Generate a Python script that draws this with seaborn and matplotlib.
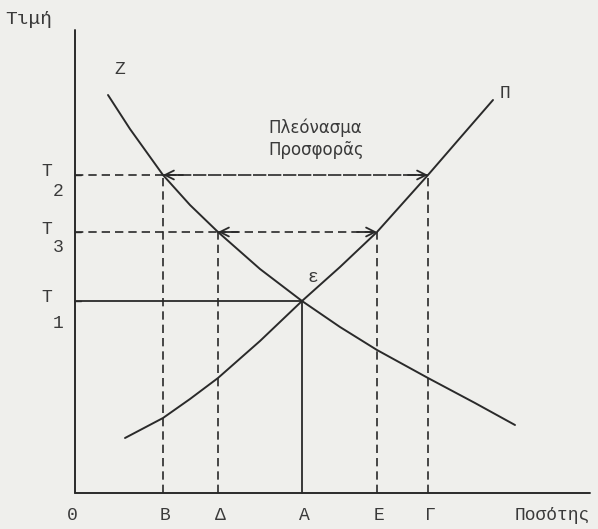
import matplotlib
matplotlib.use("Agg")
import matplotlib.pyplot as plt
import seaborn as sns
import pandas as pd

# quantities on the x axis
q_labels = ["B", "Δ", "A", "E", "Γ"]
q_B, q_D, q_A, q_E, q_G = 8.8, 14.3, 22.7, 30.2, 35.3
# prices on the y axis
p_T2, p_T3, p_T1 = 31.8, 26.1, 19.2

# demand curve Z
demand_q = [3.3, 5.5, 8.8, 11.5, 14.3, 18.5, 22.7, 26.5, 30.2, 35.3, 40.0, 44.0]
demand_p = [39.8, 36.4, 31.8, 28.8, 26.1, 22.4, 19.2, 16.6, 14.3, 11.5, 9.0, 6.8]
# supply curve Π
supply_q = [5.0, 8.8, 11.5, 14.3, 18.5, 22.7, 26.5, 30.2, 35.3, 38.5, 41.8]
supply_p = [5.5, 7.5, 9.4, 11.5, 15.2, 19.2, 22.6, 26.1, 31.8, 35.5, 39.3]

paper = "#efefec"
ink = "#2a2a2a"
txt = "#3a3a3a"

sns.set_style("white")
plt.rcParams["font.family"] = ["Liberation Mono", "DejaVu Sans"]

fig = plt.figure(figsize=(5.98, 5.29), dpi=100, facecolor=paper)
ax = fig.add_axes([0, 0, 1, 1], facecolor=paper)
ax.set_xlim(-7.5, 52.3)
ax.set_ylim(-3.6, 49.3)
for s in ax.spines.values():
    s.set_visible(False)
ax.set_xticks([])
ax.set_yticks([])

# axes lines
ax.plot([0, 0], [0, 46.3], color=ink, lw=1.4)
ax.plot([0, 51.5], [0, 0], color=ink, lw=1.4)

curves = pd.concat([
    pd.DataFrame({"q": demand_q, "p": demand_p, "c": "Z"}),
    pd.DataFrame({"q": supply_q, "p": supply_p, "c": "Π"}),
])
sns.lineplot(data=curves, x="q", y="p", hue="c", palette={"Z": ink, "Π": ink},
             sort=False, estimator=None, lw=1.4, legend=False, ax=ax)

dash = (0, (5, 3))
# T2 level
ax.plot([0, q_B], [p_T2, p_T2], color=ink, lw=1.2, ls=dash)
ax.plot([q_B, q_G], [p_T2, p_T2], color=ink, lw=1.2, ls=(0, (8, 1)))
ax.plot([q_B, q_B], [0, p_T2], color=ink, lw=1.2, ls=dash)
ax.plot([q_G, q_G], [0, p_T2], color=ink, lw=1.2, ls=dash)
# T3 level
ax.plot([0, q_D], [p_T3, p_T3], color=ink, lw=1.2, ls=dash)
ax.plot([q_D, q_E], [p_T3, p_T3], color=ink, lw=1.2, ls=dash)
ax.plot([q_D, q_D], [0, p_T3], color=ink, lw=1.2, ls=dash)
ax.plot([q_E, q_E], [0, p_T3], color=ink, lw=1.2, ls=dash)
# T1 equilibrium
ax.plot([0, q_A], [p_T1, p_T1], color=ink, lw=1.3)
ax.plot([q_A, q_A], [0, p_T1], color=ink, lw=1.3)

# arrow heads
for x0, x1, y in [(q_B + 2, q_B, p_T2), (q_G - 2, q_G, p_T2),
                  (q_D + 2, q_D, p_T3), (q_E - 2, q_E, p_T3)]:
    ax.annotate("", xy=(x1, y), xytext=(x0, y),
                arrowprops=dict(arrowstyle="->", color=ink, lw=1.3,
                                mutation_scale=16, shrinkA=0, shrinkB=0))

# small ticks on the price axis
for y in [p_T2, p_T3, p_T1]:
    ax.plot([0, 0.6], [y, y], color=ink, lw=1.0)

fs = 13
ax.text(-7.0, 47.3, "Τιμή", fontsize=14, color=txt, ha="left", va="center")
ax.text(44.0, -2.2, "Ποσότης", fontsize=fs, color=txt, ha="left", va="center")
ax.text(-0.3, -2.2, "0", fontsize=fs, color=txt, ha="center", va="center")
for lab, q in zip(q_labels, [q_B, q_D, q_A, q_E, q_G]):
    ax.text(q + 0.2, -2.2, lab, fontsize=fs, color=txt, ha="center", va="center")

for sub, p, dy in [("2", p_T2, 2.0), ("3", p_T3, 1.8), ("1", p_T1, 2.6)]:
    ax.text(-2.8, p + 0.3, "T", fontsize=fs, color=txt, ha="center", va="center")
    ax.text(-1.7, p + 0.3 - dy, sub, fontsize=fs, color=txt, ha="center", va="center")

ax.text(4.5, 42.3, "Z", fontsize=fs, color=txt, ha="center", va="center")
ax.text(43.0, 40.0, "Π", fontsize=fs, color=txt, ha="center", va="center")
ax.text(23.8, 21.5, "ε", fontsize=fs, color=txt, ha="center", va="center")
ax.text(19.3, 35.4, "Πλεόνασμα\nΠροσφορᾶς", fontsize=12, color=txt,
        ha="left", va="center", family=["DejaVu Sans"], linespacing=1.3)

fig.savefig("out.png", dpi=100, facecolor=paper)
